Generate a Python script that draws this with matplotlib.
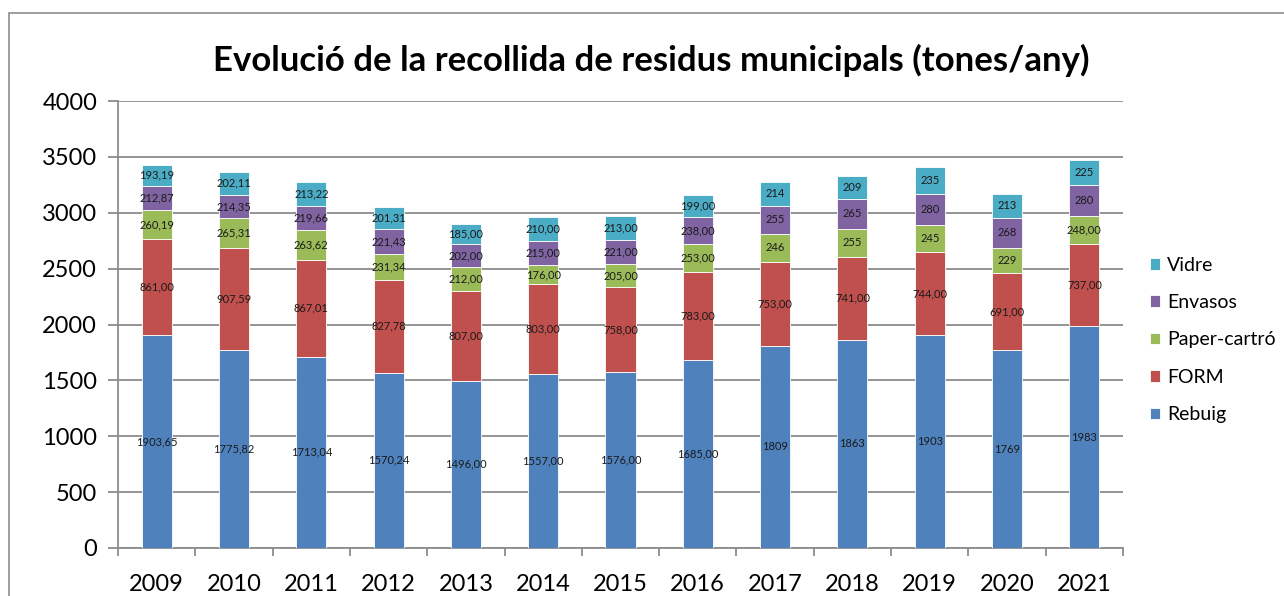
import numpy as np
import matplotlib.pyplot as plt
from matplotlib.patches import Rectangle

years = ['2009', '2010', '2011', '2012', '2013', '2014', '2015',
         '2016', '2017', '2018', '2019', '2020', '2021']

rebuig = [1903.65, 1775.82, 1713.04, 1570.24, 1496, 1557, 1576, 1685, 1809, 1863, 1903, 1769, 1983]
form = [861.00, 907.59, 867.01, 827.78, 807, 803, 758, 783, 753, 741, 744, 691, 737]
paper = [260.19, 265.31, 263.62, 231.34, 212, 176, 205, 253, 246, 255, 245, 229, 248]
envasos = [212.87, 214.35, 219.66, 221.43, 202, 215, 221, 238, 255, 265, 280, 268, 280]
vidre = [193.19, 202.11, 213.22, 201.31, 185, 210, 213, 199, 214, 209, 235, 213, 225]

# labels as shown in the chart (comma decimals, some without)
rebuig_lbl = ['1903,65', '1775,82', '1713,04', '1570,24', '1496,00', '1557,00', '1576,00',
              '1685,00', '1809', '1863', '1903', '1769', '1983']
form_lbl = ['861,00', '907,59', '867,01', '827,78', '807,00', '803,00', '758,00',
            '783,00', '753,00', '741,00', '744,00', '691,00', '737,00']
paper_lbl = ['260,19', '265,31', '263,62', '231,34', '212,00', '176,00', '205,00',
             '253,00', '246', '255', '245', '229', '248,00']
envasos_lbl = ['212,87', '214,35', '219,66', '221,43', '202,00', '215,00', '221,00',
               '238,00', '255', '265', '280', '268', '280']
vidre_lbl = ['193,19', '202,11', '213,22', '201,31', '185,00', '210,00', '213,00',
             '199,00', '214', '209', '235', '213', '225']

series = [('Rebuig', rebuig, rebuig_lbl, '#4F81BD'),
          ('FORM', form, form_lbl, '#C0504D'),
          ('Paper-cartró', paper, paper_lbl, '#9BBB59'),
          ('Envasos', envasos, envasos_lbl, '#8064A2'),
          ('Vidre', vidre, vidre_lbl, '#4BACC6')]

plt.rcParams['font.family'] = ['Lato', 'DejaVu Sans']

fig = plt.figure(figsize=(12.84, 5.96), dpi=100)
ax = fig.add_axes([118/1284, 1-548/596, (1123-118)/1284, (548-101)/596])

# outer chart frame
fig.patches.append(Rectangle((9/1284, -0.05), 1.1, 1-13/596+0.05, transform=fig.transFigure,
                             fill=False, edgecolor='#8c8c8c', linewidth=1.2))

x = np.arange(len(years))
bottom = np.zeros(len(years))
handles = []
for name, vals, lbls, col in series:
    vals = np.array(vals, dtype=float)
    b = ax.bar(x, vals, 0.39, bottom=bottom, color=col, edgecolor='white', linewidth=0.6,
               label=name, zorder=3)
    handles.append(b)
    for xi, v, bt, s in zip(x, vals, bottom, lbls):
        ax.text(xi, bt + v/2, s, ha='center', va='center', fontsize=8, color='#1a1a1a', zorder=4)
    bottom += vals

ax.set_xlim(-0.5, len(years) - 0.5)
ax.set_ylim(0, 4000)
ax.set_yticks(np.arange(0, 4001, 500))
ax.yaxis.grid(True, color='#8c8c8c', linewidth=1.3, zorder=0)
ax.set_xticks(x)
ax.set_xticklabels(years, fontsize=17)
ax.set_xticks(np.arange(-0.5, len(years), 1), minor=True)
ax.tick_params(axis='x', which='major', length=0, pad=19)
ax.tick_params(axis='x', which='minor', length=6, width=1.3, color='#8c8c8c', direction='out')
ax.tick_params(axis='y', labelsize=17, length=7, width=1.3, color='#8c8c8c', pad=8)
for s in ['top', 'right']:
    ax.spines[s].set_visible(False)
for s in ['left', 'bottom']:
    ax.spines[s].set_color('#8c8c8c')
    ax.spines[s].set_linewidth(1.3)

fig.text(651/1284, 1-60/596, 'Evolució de la recollida de residus municipals (tones/any)',
         ha='center', va='center', fontsize=25, fontweight='bold')

leg = fig.legend(handles[::-1], [s[0] for s in series][::-1], loc='center left',
                 bbox_to_anchor=(1132/1284, 1-340/596), frameon=False, fontsize=14,
                 handlelength=0.55, handleheight=0.55, handletextpad=0.35, labelspacing=1.05)

fig.savefig('out.png', dpi=100)
